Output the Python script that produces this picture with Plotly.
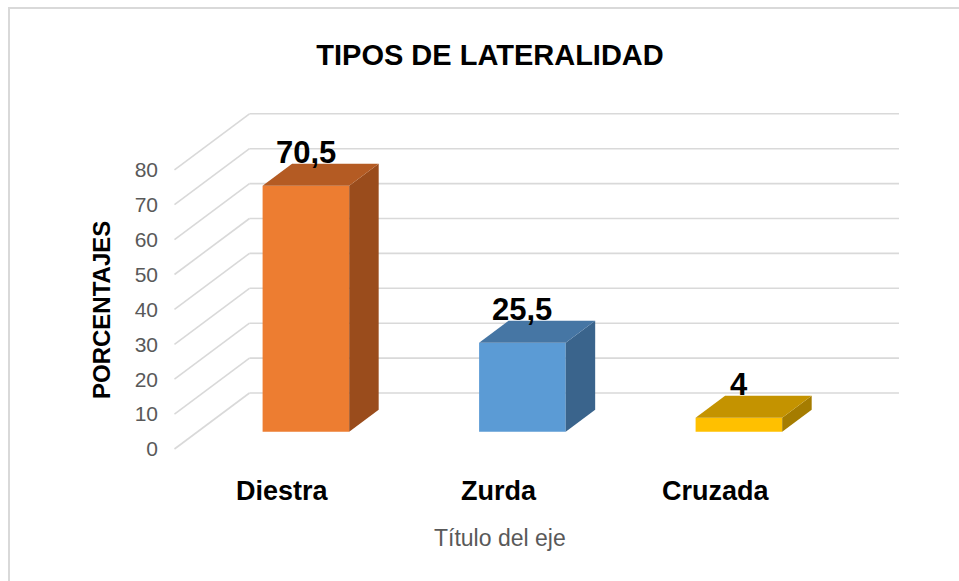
import plotly.graph_objects as go

# ---- data ----
categories = ["Diestra", "Zurda", "Cruzada"]
values = [70.5, 25.5, 4]
front_colors = ["#ED7D31", "#5B9BD5", "#FFC000"]
top_colors = ["#B45B23", "#4676A4", "#C49300"]
side_colors = ["#9A4C1C", "#3A648C", "#A57C00"]
tick_values = [0, 10, 20, 30, 40, 50, 60, 70, 80]
tick_labels = ["0", "10", "20", "30", "40", "50", "60", "70", "80"]
title_text = "TIPOS DE LATERALIDAD"
y_title = "PORCENTAJES"
x_title = "Título del eje"

# ---- layout constants (pseudo 3D projection) ----
W, H = 959, 581
PX_X = 216.5          # pixels per category unit
PX_Y = 3.49           # pixels per value unit
ORIGIN_X = 305.9      # pixel x of first category (bar front plane)
ORIGIN_Y = 431.7      # pixel y of value 0 (bar front plane)
AX = 75 / PX_X        # x shift per unit of depth
AY = 56 / PX_Y        # y shift per unit of depth
DF = 0.309            # depth of bar front face (0 = floor front, 1 = back wall)
DB = DF + 0.393       # depth of bar back face
BAR_W = 0.4

x_range = [-ORIGIN_X / PX_X, (W - ORIGIN_X) / PX_X]
y_range = [-(H - ORIGIN_Y) / PX_Y, ORIGIN_Y / PX_Y]


def proj(xb, v, d):
    return xb + (d - DF) * AX, v + (d - DF) * AY


fig = go.Figure()

# grid (floor-side diagonals + back wall lines) as shapes below traces
shapes = []
grid_col = "#D9D9D9"
for v in tick_values:
    x0, y0 = proj(-0.5, v, 0)
    x1, y1 = proj(-0.5, v, 1)
    x2, y2 = proj(len(categories) - 0.5, v, 1)
    shapes.append(dict(type="line", xref="x", yref="y", x0=x0, y0=y0, x1=x1, y1=y1,
                       line=dict(color=grid_col, width=1.6), layer="below"))
    shapes.append(dict(type="line", xref="x", yref="y", x0=x1, y0=y1, x1=x2, y1=y2,
                       line=dict(color=grid_col, width=1.6), layer="below"))

# chart border (light gray)
shapes.append(dict(type="rect", xref="paper", yref="paper", x0=9 / W, y0=-0.2,
                   x1=1.2, y1=1 - 8 / H, line=dict(color="#D9D9D9", width=2),
                   fillcolor="rgba(0,0,0,0)", layer="below"))

# front faces
fig.add_trace(go.Bar(x=list(range(len(categories))), y=values, width=BAR_W,
                     marker=dict(color=front_colors, line=dict(width=0)),
                     hoverinfo="skip", showlegend=False))

# side and top faces
for i, v in enumerate(values):
    pts = [proj(i + BAR_W / 2, 0, DF), proj(i + BAR_W / 2, v, DF),
           proj(i + BAR_W / 2, v, DB), proj(i + BAR_W / 2, 0, DB)]
    fig.add_trace(go.Scatter(x=[p[0] for p in pts] + [pts[0][0]],
                             y=[p[1] for p in pts] + [pts[0][1]],
                             fill="toself", fillcolor=side_colors[i], mode="lines",
                             line=dict(width=0, color=side_colors[i]),
                             hoverinfo="skip", showlegend=False))
    pts = [proj(i - BAR_W / 2, v, DF), proj(i + BAR_W / 2, v, DF),
           proj(i + BAR_W / 2, v, DB), proj(i - BAR_W / 2, v, DB)]
    fig.add_trace(go.Scatter(x=[p[0] for p in pts] + [pts[0][0]],
                             y=[p[1] for p in pts] + [pts[0][1]],
                             fill="toself", fillcolor=top_colors[i], mode="lines",
                             line=dict(width=0, color=top_colors[i]),
                             hoverinfo="skip", showlegend=False))

off = DF * AY  # value axis drawn at floor front edge

# invisible trace so the value axis (y2) is rendered
fig.add_trace(go.Scatter(x=[x_range[0]], y=[tick_values[0]], yaxis="y2", mode="markers",
                         marker=dict(opacity=0), hoverinfo="skip", showlegend=False))

FONT = "Liberation Sans, Arial, sans-serif"
annotations = []


def fmt(v):
    return str(int(v)) if float(v).is_integer() else str(v).replace(".", ",")


# data labels
for i, v in enumerate(values):
    annotations.append(dict(x=i, y=v, xref="x", yref="y", text=fmt(v), showarrow=False,
                            yshift=33, xanchor="center", yanchor="middle",
                            font=dict(family=FONT, size=31, color="#000000", weight="bold")))

# category labels (at floor front edge)
for i, c in enumerate(categories):
    cx, cy = proj(i, 0, 0)
    annotations.append(dict(x=cx, y=cy, xref="x", yref="y", text=c, showarrow=False,
                            yshift=-42, xanchor="center", yanchor="middle",
                            font=dict(family=FONT, size=27, color="#000000", weight="bold")))

# axis titles
annotations.append(dict(x=500 / W, y=1 - 538 / H, xref="paper", yref="paper", text=x_title,
                        showarrow=False, xanchor="center", yanchor="middle",
                        font=dict(family=FONT, size=23, color="#595959")))
annotations.append(dict(x=101 / W, y=1 - 310 / H, xref="paper", yref="paper", text=y_title,
                        showarrow=False, xanchor="center", yanchor="middle", textangle=-90,
                        font=dict(family=FONT, size=24, color="#000000", weight="bold")))

fig.update_layout(
    width=W, height=H, autosize=False,
    margin=dict(l=0, r=0, t=0, b=0),
    paper_bgcolor="white", plot_bgcolor="white",
    showlegend=False,
    title=dict(text=title_text, x=490 / W, y=1 - 55 / H, xref="paper", yref="paper",
               xanchor="center", yanchor="middle",
               font=dict(family=FONT, size=29, color="#000000", weight="bold")),
    xaxis=dict(range=x_range, visible=False, fixedrange=True),
    yaxis=dict(range=y_range, visible=False, fixedrange=True),
    yaxis2=dict(range=[y_range[0] + off, y_range[1] + off], overlaying="y",
                anchor="free", position=158 / W, side="left",
                tickvals=tick_values, ticktext=tick_labels, ticks="",
                showgrid=False, zeroline=False, showline=False, visible=True,
                tickfont=dict(family=FONT, size=21, color="#595959"), fixedrange=True),
    shapes=shapes,
    annotations=annotations,
)

fig.write_html("out.html", config={"displayModeBar": False},
               post_script="document.body.style.margin='0';document.body.style.overflow='hidden';")
